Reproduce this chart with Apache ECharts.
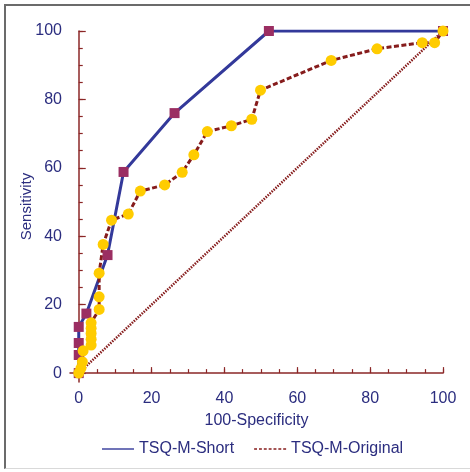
<!DOCTYPE html>
<html>
<head>
<meta charset="utf-8">
<script src="https://cdn.jsdelivr.net/npm/echarts@6/dist/echarts.min.js"></script>
<style>
  html, body { margin: 0; padding: 0; background: #ffffff; }
  #frame { position: absolute; left: 4px; top: 4px; width: 470px; height: 465px;
           border-top: 2px solid #6b6b6b; border-left: 2px solid #6b6b6b; border-bottom: 1px solid #d9d9d9; box-sizing: border-box; }
  #chart { position: absolute; left: 0; top: 0; width: 470px; height: 472px; }
</style>
</head>
<body>
<div id="frame"></div>
<div id="chart"></div>
<script>
// ---- data ----
const seriesNames = ['TSQ-M-Short', 'TSQ-M-Original'];
const tickLabels = [0, 20, 40, 60, 80, 100];
const minorTicks = [0, 5, 10, 15, 20, 25, 30, 35, 40, 45, 50, 55, 60, 65, 70, 75, 80, 85, 90, 95, 100];

const shortX = [0, 0, 0, 0, 2.1, 7.9, 12.3, 26.3, 52.2, 100];
const shortY = [0, 5.3, 8.8, 13.5, 17.4, 34.5, 58.8, 76.0, 100, 100];

const origX = [0, 0.6, 1.0, 1.2, 3.4, 3.4, 3.4, 3.4, 3.4, 5.6, 5.6, 5.6, 6.7, 9.0, 13.6, 16.9, 23.6, 28.4, 31.6, 35.3, 41.9, 47.5, 49.9, 69.3, 81.9, 94.3, 97.7, 100];
const origY = [0, 1.4, 3.3, 6.5, 8.2, 9.9, 11.6, 13.1, 14.7, 18.6, 22.3, 29.2, 37.6, 44.7, 46.5, 53.2, 55.0, 58.7, 63.8, 70.6, 72.3, 74.2, 82.7, 91.4, 94.8, 96.6, 96.6, 100];

const diagX = [0, 100];
const diagY = [0, 100];

// ---- styles ----
const NAVY_TEXT = '#2b2d7f';
const NAVY_LINE = '#33399a';
const AXIS_RED = '#8b2727';
const DASH_RED = '#861c1c';
const SQUARE = '#9b2e62';
const YELLOW = '#ffcc00';
const FONT = '"Liberation Sans", Arial, sans-serif';

const zip = (xs, ys) => xs.map((x, i) => [x, ys[i]]);

const dashPath = (() => {
  let p = 'path://';
  for (let i = 0; i < 7; i++) { const s = i * 5; p += 'M' + s + ',0h3v1.4h-3z'; }
  return p;
})();

const chart = echarts.init(document.getElementById('chart'), null, { renderer: 'canvas' });

const baseAxis = {
  type: 'value',
  splitLine: { show: false },
  axisLine: { show: true, lineStyle: { color: AXIS_RED, width: 1.5 } },
};

chart.setOption({
  animation: false,
  backgroundColor: 'transparent',
  textStyle: { fontFamily: FONT },
  grid: { left: 70, right: 27, top: 31, bottom: 90 },
  xAxis: [
    Object.assign({}, baseAxis, {
      min: -2.4, max: 100, position: 'bottom',
      axisTick: { show: true, inside: true, length: 6, customValues: tickLabels, lineStyle: { color: AXIS_RED, width: 1.2 } },
      axisLabel: { customValues: tickLabels, color: NAVY_TEXT, fontSize: 16, margin: 9, fontFamily: FONT },
      name: '100-Specificity', nameLocation: 'middle', nameGap: 31,
      nameTextStyle: { color: NAVY_TEXT, fontSize: 16, fontFamily: FONT }
    }),
    Object.assign({}, baseAxis, {
      min: -2.4, max: 100, position: 'bottom',
      axisLine: { show: false },
      axisTick: { show: true, inside: true, length: 4, customValues: minorTicks, lineStyle: { color: AXIS_RED, width: 1.2 } },
      axisLabel: { show: false }
    })
  ],
  yAxis: [
    Object.assign({}, baseAxis, {
      min: -2.6, max: 100, position: 'left',
      axisTick: { show: true, inside: true, length: 7, customValues: tickLabels, lineStyle: { color: AXIS_RED, width: 1.2 } },
      axisLabel: { customValues: tickLabels, color: NAVY_TEXT, fontSize: 16, margin: 8, fontFamily: FONT },
      name: 'Sensitivity', nameLocation: 'middle', nameGap: 36, nameMoveOverlap: false,
      nameTextStyle: { color: NAVY_TEXT, fontSize: 15, fontFamily: FONT }
    }),
    Object.assign({}, baseAxis, {
      min: -2.6, max: 100, position: 'left',
      axisLine: { show: false },
      axisTick: { show: true, inside: true, length: 4, customValues: minorTicks, lineStyle: { color: AXIS_RED, width: 1.2 } },
      axisLabel: { show: false }
    })
  ],
  legend: {
    left: 97, top: 436,
    itemWidth: 32, itemHeight: 2, itemGap: 20,
    textStyle: { color: NAVY_TEXT, fontSize: 16, fontFamily: FONT },
    data: [
      { name: seriesNames[0], icon: 'path://M0,0H32V1.4H0Z', itemStyle: { color: NAVY_LINE } },
      { name: seriesNames[1], icon: dashPath, itemStyle: { color: DASH_RED } }
    ]
  },
  series: [
    {
      name: 'diagonal', type: 'line', xAxisIndex: 0, yAxisIndex: 0,
      data: zip(diagX, diagY), symbol: 'none', silent: true,
      lineStyle: { color: DASH_RED, width: 2.5, type: [1.5, 1.2] }
    },
    {
      name: seriesNames[0], type: 'line', xAxisIndex: 0, yAxisIndex: 0,
      data: zip(shortX, shortY),
      symbol: 'rect', symbolSize: 10,
      itemStyle: { color: SQUARE, borderWidth: 0 },
      lineStyle: { color: NAVY_LINE, width: 3 }
    },
    {
      name: seriesNames[1], type: 'line', xAxisIndex: 0, yAxisIndex: 0,
      data: zip(origX, origY),
      symbol: 'circle', symbolSize: 11,
      itemStyle: { color: YELLOW, borderWidth: 0 },
      lineStyle: { color: DASH_RED, width: 3, type: [5, 2.5] }
    }
  ]
});
</script>
</body>
</html>
